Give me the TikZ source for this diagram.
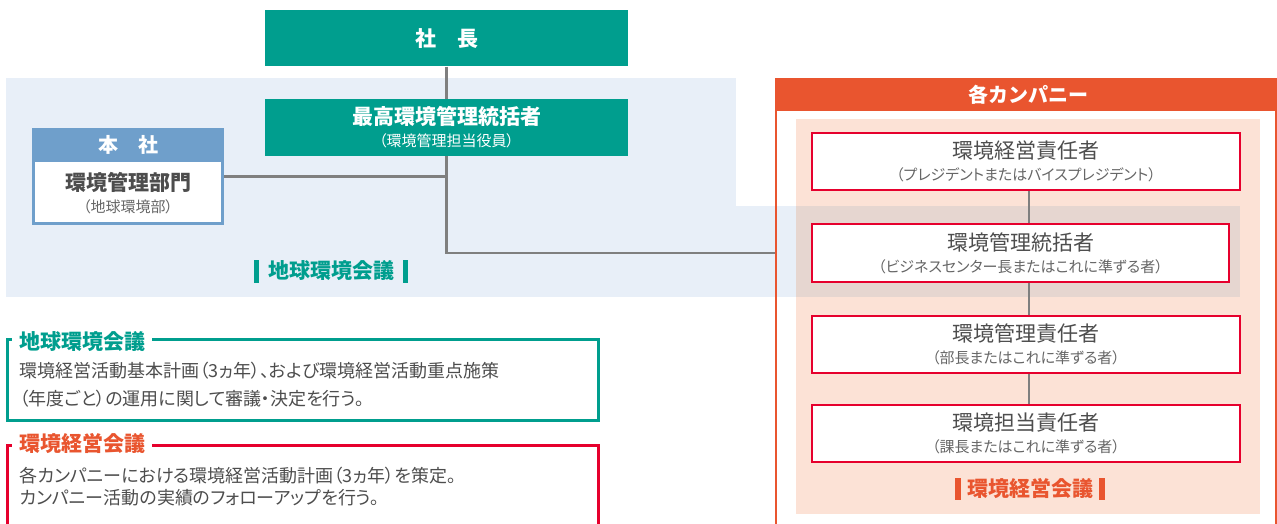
\documentclass[tikz,border=0pt]{standalone}
\usepackage{fontspec}
\setmainfont{Noto Sans CJK JP}
\newfontfamily\paltfont{Noto Sans CJK JP}[RawFeature=+palt]
\definecolor{teal}{HTML}{009E8E}
\definecolor{hqblue}{HTML}{6F9FCB}
\definecolor{bgblue}{HTML}{E8EFF8}
\definecolor{orange}{HTML}{E9552F}
\definecolor{peach}{HTML}{FCE2D6}
\definecolor{band}{HTML}{E6D6D0}
\definecolor{boxred}{HTML}{E6002D}
\definecolor{linegray}{HTML}{7F7F7F}
\definecolor{txt}{HTML}{4D4D4D}
\definecolor{subtxt}{HTML}{666666}
\newcommand{\mainfs}{\fontsize{21}{22}\selectfont}
\newcommand{\subfs}{\paltfont\fontsize{15}{16}\selectfont}
\begin{document}
\begin{tikzpicture}[x=1pt,y=-1pt,
  topbox/.style={fill=teal, text=white, minimum width=363pt, inner sep=0pt, align=center, font=\mainfs\bfseries},
  rolebox/.style={draw=boxred, line width=1.5pt, fill=white, minimum width=428pt, minimum height=57pt, inner sep=0pt, align=center, text=txt, font=\mainfs},
  conn/.style={draw=linegray, line width=2.5pt},
  paneltitle/.style={fill=white, inner xsep=7pt, inner ysep=2pt, font=\mainfs\bfseries, anchor=west},
  paneltext/.style={text=txt, font=\paltfont\fontsize{18}{18}\selectfont, anchor=west, inner sep=0pt},
  bandlabel/.style={font=\mainfs\bfseries, inner sep=0pt}
]
\useasboundingbox (0,0) rectangle (1277,524);
\clip (0,0) rectangle (1277,524);
% backgrounds
\fill[bgblue] (6,78) rectangle (736,297);
\fill[white] (775,78) rectangle (1276,540);
\fill[peach] (796,119) rectangle (1260,514);
\fill[bgblue] (736,206) rectangle (796,297);
\fill[band] (796,206) rectangle (1240,297);
\fill[orange] (775,78) rectangle (1276,111);
\node (company) [draw=orange, line width=2pt, minimum width=500pt, minimum height=470pt, anchor=north west, inner sep=0pt] at (775,78) {};
\node (companyhead) [text=white, font=\fontsize{20}{22}\selectfont\bfseries] at (1028,95) {各カンパニー};

% top boxes
\node (shacho) [topbox, minimum height=56pt] at (446.5,38.5) {社　長};
\node (saiko) [topbox, minimum height=57pt] at (446.5,127.5) {最高環境管理統括者\\{\subfs\mdseries （環境管理担当役員）}};

% head office box
\node (honsha) [draw=hqblue, line width=3pt, fill=white, minimum width=189pt, minimum height=94pt, inner sep=0pt] at (128,176.5) {};
\fill[hqblue] (32,128) rectangle (224,162);
\node (honshahead) [text=white, font=\fontsize{20}{22}\selectfont\bfseries] at (128,145) {本　社};
\node (honshabody) [text=txt, align=center, font=\mainfs\bfseries] at (128,193) {環境管理部門\\{\subfs\mdseries\color{subtxt}（地球環境部）}};

% company role boxes
\node (r1) [rolebox] at (1026,161.5) {環境経営責任者\\{\subfs\color{subtxt}（プレジデントまたはバイスプレジデント）}};
\node (r2) [rolebox, minimum width=417pt, minimum height=58pt] at (1020.5,253) {環境管理統括者\\{\subfs\color{subtxt}（ビジネスセンター長またはこれに準ずる者）}};
\node (r3) [rolebox] at (1026,344.5) {環境管理責任者\\{\subfs\color{subtxt}（部長またはこれに準ずる者）}};
\node (r4) [rolebox] at (1026,433.5) {環境担当責任者\\{\subfs\color{subtxt}（課長またはこれに準ずる者）}};

% connectors
\draw[conn] (shacho.south) -- (saiko.north);
\draw[conn] (saiko.south) |- (company.west |- r2.west);
\draw[conn] (honsha.east) -- (honsha.east -| saiko.south);
\draw[conn] ([xshift=3pt]r1.south) -- ([xshift=3pt]r1.south |- r2.north);
\draw[conn] ([xshift=3pt]r2.south -| r1.south) -- ([xshift=3pt]r3.north);
\draw[conn] ([xshift=3pt]r3.south) -- ([xshift=3pt]r4.north);

% band labels
\node (globallabel) [bandlabel, text=teal] at (331,271) {地球環境会議};
\fill[teal] (254,260) rectangle (259,283);
\fill[teal] (403,260) rectangle (408,283);
\node (mgmtlabel) [bandlabel, text=orange] at (1030,489) {環境経営会議};
\fill[orange] (955,478) rectangle (961,500);
\fill[orange] (1099,478) rectangle (1105,500);

% bottom panels
\node (panel1) [draw=teal, line width=2.5pt, minimum width=591pt, minimum height=81pt, anchor=north west, inner sep=0pt] at (6,338) {};
\node (panel1title) [paneltitle, text=teal] at (12,342) {地球環境会議};
\node (p1l1) [paneltext] at (19.5,371) {環境経営活動基本計画（3ヵ年）、および環境経営活動重点施策};
\node (p1l2) [paneltext] at (19.5,399) {（年度ごと）の運用に関して審議・決定を行う。};

\node (panel2) [draw=boxred, line width=2.5pt, minimum width=591pt, minimum height=120pt, anchor=north west, inner sep=0pt] at (6,444) {};
\node (panel2title) [paneltitle, text=orange] at (12,444) {環境経営会議};
\node (p2l1) [paneltext] at (19.5,476) {各カンパニーにおける環境経営活動計画（3ヵ年）を策定。};
\node (p2l2) [paneltext] at (19.5,498) {カンパニー活動の実績のフォローアップを行う。};
\end{tikzpicture}
\end{document}
